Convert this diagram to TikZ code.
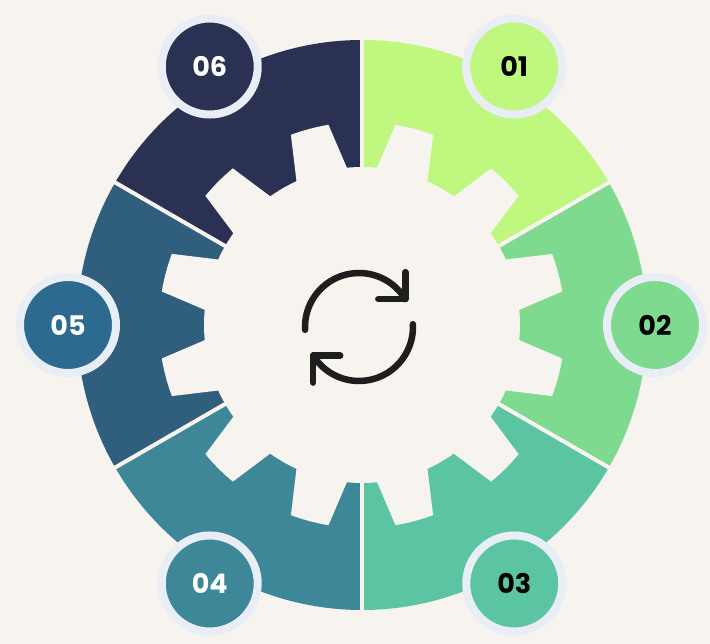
\documentclass[tikz,border=0pt]{standalone}
\usepackage{fontspec}
\setmainfont{Poppins}
\usetikzlibrary{calc}
\definecolor{bg}{HTML}{F7F3EE}
\definecolor{ring}{HTML}{E9EDF5}
\definecolor{cA}{HTML}{BFF77F}
\definecolor{cB}{HTML}{7DDA8E}
\definecolor{cC}{HTML}{5BC4A2}
\definecolor{cD}{HTML}{3D8799}
\definecolor{cE}{HTML}{2F5F7C}
\definecolor{cEb}{HTML}{2C6A90}
\definecolor{cF}{HTML}{2B3152}
\definecolor{ink}{HTML}{1E1E1E}
\begin{document}
\begin{tikzpicture}[x=1pt,y=1pt,
  badge/.style={circle,minimum size=96pt,draw=ring,line width=8pt,font=\bfseries\fontsize{27}{27}\selectfont},
  divider/.style={draw=bg,line width=4pt},
  icon/.style={draw=ink,line width=6.5pt,line cap=round,line join=round}]
\useasboundingbox[fill=bg] (-362,-319) rectangle (348,325);
\coordinate (O) at (0,0);
% sectors
\foreach \c/\a in {cA/30,cB/-30,cC/-90,cD/-150,cE/150,cF/90}
  \fill[\c] (O) -- (\a:285) arc[start angle=\a,delta angle=60,radius=285] -- cycle;
% hollow gear
\def\ra{158}\def\rb{203}
\fill[bg] (0:\ra)
 \foreach \k in {0,...,11}{
   arc[start angle=30*\k, end angle=30*\k+5.5, radius=\ra]
   -- ({30*\k+9.5}:\rb)
   arc[start angle=30*\k+9.5, end angle=30*\k+20.5, radius=\rb]
   -- ({30*\k+24.5}:\ra)
   arc[start angle=30*\k+24.5, end angle=30*\k+30, radius=\ra]
 } -- cycle;
% dividers
\foreach \a in {90,30,-30,-90,-150,150}
  \draw[divider] (O) -- (\a:292);
% badges
\node[badge,fill=cA,text=black] (b1) at (59.5:300) {01};
\node[badge,fill=cB,text=black] (b2) at (0:293) {02};
\node[badge,fill=cC,text=black] (b3) at (-59.5:300) {03};
\node[badge,fill=cD,text=white] (b4) at (-120.5:300) {04};
\node[badge,fill=cEb,text=white] (b5) at (180:294) {05};
\node[badge,fill=cF,text=white] (b6) at (120.5:300) {06};
% refresh icon
\coordinate (C) at (-3,-2);
\coordinate (t) at ($(C)+(31:54)$);
\coordinate (u) at ($(C)+(-148:54)$);
\draw[icon] ($(C)+(183:54)$) arc[start angle=183,end angle=31,radius=54];
\draw[icon] ($(t)+(-27,0)$) -- (t) -- ($(t)+(0,27)$);
\draw[icon] ($(C)+(3:54)$) arc[start angle=3,end angle=-148,radius=54];
\draw[icon] ($(u)+(27,0)$) -- (u) -- ($(u)+(0,-27)$);
\end{tikzpicture}
\end{document}
